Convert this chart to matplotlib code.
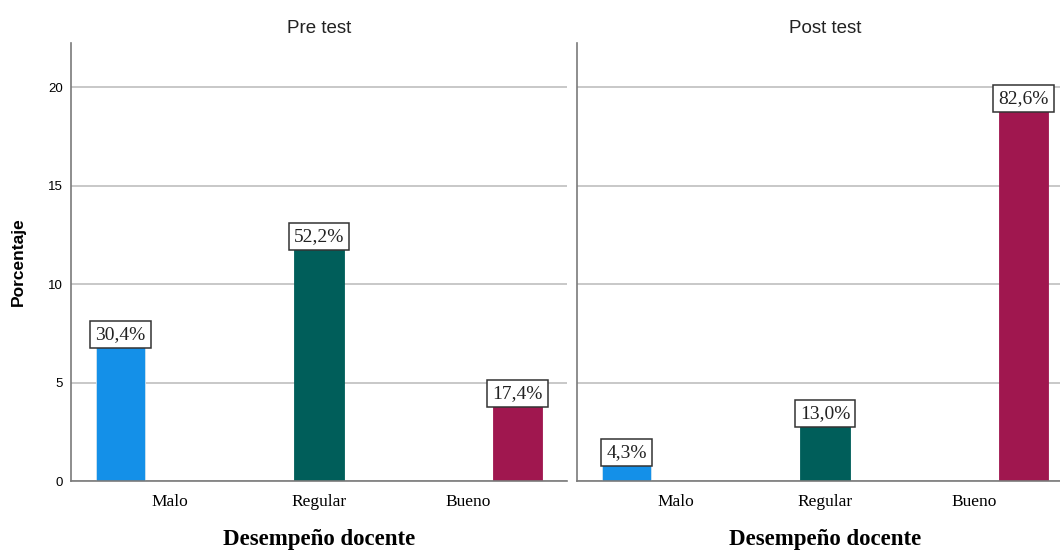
import matplotlib
matplotlib.use("Agg")
import matplotlib.pyplot as plt
import numpy as np

categories = ["Malo", "Regular", "Bueno"]
panels = ["Pre test", "Post test"]
counts_pre = [7, 12, 4]
counts_post = [1, 3, 19]
labels_pre = ["30,4%", "52,2%", "17,4%"]
labels_post = ["4,3%", "13,0%", "82,6%"]
colors = ["#1490e8", "#005e5a", "#a0174f"]
yticks = [0, 5, 10, 15, 20]

W, H = 1060, 550
fig = plt.figure(figsize=(W / 100, H / 100), dpi=100)

ax_bottom = 1 - 481 / H
ax_h = (481 - 43) / H
ax_w = 496 / W
lefts = [71 / W, 577 / W]

serif = "Liberation Serif"
sans = "Liberation Sans"

data = [(counts_pre, labels_pre), (counts_post, labels_post)]
bw = 1 / 3
x = np.arange(len(categories))
offsets = np.array([-1, 0, 1]) * bw

for i, (title, (vals, labs)) in enumerate(zip(panels, data)):
    ax = fig.add_axes([lefts[i], ax_bottom, ax_w, ax_h])
    ax.set_xlim(-0.667, 2.667)
    ax.set_ylim(0, 22.25)
    ax.set_yticks(yticks)
    ax.grid(axis="y", color="#c8c8c8", lw=1.4, zorder=0)
    ax.set_axisbelow(True)
    for j in range(len(categories)):
        xp = x[j] + offsets[j]
        ax.bar(xp, vals[j], width=bw, color=colors[j], edgecolor="#cfe3ef" if j == 0 else colors[j],
               lw=0.6, zorder=2)
        ax.text(xp, vals[j], labs[j], ha="center", va="bottom", fontsize=14,
                family=serif, color="#222222", zorder=5,
                bbox=dict(boxstyle="square,pad=0.26", fc="white", ec="#333333", lw=1.1))
    ax.set_xticks(x)
    ax.set_xticklabels(categories, family=serif, fontsize=12.5)
    ax.tick_params(axis="x", length=0, pad=9)
    ax.tick_params(axis="y", length=0, pad=6, labelsize=9.5)
    for lab in ax.get_yticklabels():
        lab.set_family(sans)
    if i == 1:
        ax.set_yticklabels([])
    for s in ["top", "right"]:
        ax.spines[s].set_visible(False)
    for s in ["left", "bottom"]:
        ax.spines[s].set_color("#7a7a7a")
        ax.spines[s].set_linewidth(1.2)
    ax.set_title(title, family=sans, fontsize=13.5, pad=7, color="#222222")
    ax.set_xlabel("Desempeño docente", family=serif, fontweight="bold", fontsize=16.5, labelpad=14)
    if i == 0:
        ax.set_ylabel("Porcentaje", family=sans, fontweight="bold", fontsize=12.5, labelpad=16)

fig.savefig("out.png", dpi=100, facecolor="white")
